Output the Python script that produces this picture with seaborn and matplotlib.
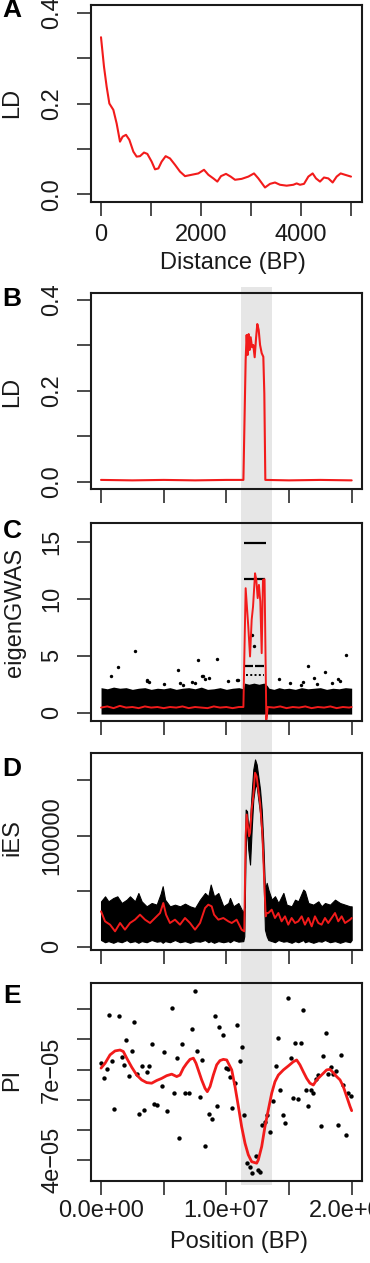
import numpy as np
import matplotlib
matplotlib.use('Agg')
import matplotlib.pyplot as plt
import seaborn as sns
from matplotlib.patches import Rectangle
from matplotlib.transforms import blended_transform_factory

# ---- data ----
# A: LD decay with distance
dist_bp = [0, 60, 113, 167, 247, 313, 380, 433, 500, 567, 647, 713, 780, 860, 927, 1013, 1080, 1147,
           1213, 1293, 1380, 1480, 1580, 1680, 1813, 1947, 2060, 2147, 2247, 2327, 2400, 2500, 2593,
           2680, 2813, 2947, 3060, 3147, 3280, 3380, 3480, 3580, 3713, 3847, 3913, 3980, 4060, 4147,
           4233, 4300, 4380, 4460, 4547, 4633, 4713, 4793, 4880, 5000]
ld_decay = [0.346, 0.281, 0.237, 0.200, 0.186, 0.156, 0.116, 0.127, 0.131, 0.120, 0.094, 0.083, 0.084,
            0.092, 0.089, 0.072, 0.055, 0.057, 0.072, 0.084, 0.079, 0.065, 0.050, 0.040, 0.043, 0.046,
            0.054, 0.043, 0.035, 0.028, 0.040, 0.045, 0.039, 0.032, 0.034, 0.039, 0.046, 0.035, 0.015,
            0.023, 0.026, 0.021, 0.019, 0.021, 0.024, 0.021, 0.023, 0.039, 0.046, 0.035, 0.028, 0.037,
            0.035, 0.026, 0.039, 0.046, 0.043, 0.039]

# selected region (Mb)
band_mb = [11.17, 13.62]

# B: LD along the chromosome (Mb)
b_pos = [0, 2.5, 5.0, 7.5, 10.0, 11.36, 11.54, 11.62, 11.70, 11.78, 11.86, 11.94, 12.05, 12.15, 12.26,
         12.37, 12.47, 12.58, 12.69, 12.82, 12.95, 13.03, 13.11, 15.0, 17.5, 20.0]
b_ld = [0.004, 0.003, 0.004, 0.003, 0.004, 0.004, 0.268, 0.323, 0.279, 0.325, 0.290, 0.318, 0.296, 0.301,
        0.274, 0.316, 0.347, 0.334, 0.301, 0.283, 0.275, 0.194, 0.004, 0.003, 0.004, 0.003]

# C: eigenGWAS - dense mass of points (upper edge), outliers, runs of tied values, smoothed line
c_mass_pos = [0, 0.5, 1.0, 1.5, 2.0, 2.5, 3.0, 3.5, 4.0, 4.5, 5.0, 5.5, 6.0, 6.5, 7.0, 7.5, 8.0, 8.5, 9.0,
              9.5, 10.0, 10.5, 11.0, 11.35, 11.45, 11.8, 12.2, 12.6, 13.0, 13.25, 13.4, 13.8, 14.2, 14.6,
              15.0, 15.5, 16.0, 16.5, 17.0, 17.5, 18.0, 18.5, 19.0, 19.5, 20.0]
c_mass_top = [2.2, 2.1, 2.25, 2.15, 2.2, 2.05, 2.15, 2.2, 2.05, 2.15, 2.1, 2.2, 2.05, 2.15, 2.2, 2.1, 2.25,
              2.05, 2.1, 2.2, 2.05, 2.15, 2.2, 2.1, 2.6, 2.5, 2.6, 2.5, 2.6, 2.4, 2.15, 2.05, 2.2, 2.1,
              2.15, 2.05, 2.2, 2.1, 2.15, 2.2, 2.05, 2.15, 2.1, 2.2, 2.15]
c_out_pos = [0.80, 1.33, 2.74, 3.64, 3.70, 3.86, 5.05, 6.17, 6.30, 6.52, 7.23, 7.50, 7.71, 8.03, 8.16, 8.30,
             8.62, 9.28, 10.16, 10.85, 10.95, 12.02, 12.23, 14.23, 15.08, 15.96, 16.14, 16.54, 16.97,
             17.21, 17.87, 18.45, 18.88, 19.07, 19.55]
c_out_val = [3.19, 4.04, 5.38, 2.75, 2.84, 2.66, 2.48, 3.71, 2.60, 2.43, 2.66, 2.63, 4.60, 3.19, 3.19, 2.95,
             3.07, 4.71, 2.77, 2.90, 2.90, 6.84, 5.88, 2.95, 2.63, 2.40, 2.69, 4.06, 3.04,
             2.54, 3.54, 2.63, 2.95, 2.75, 5.09]
c_run_start = [11.41, 11.41, 11.50, 12.30]
c_run_end = [13.16, 13.08, 12.10, 13.00]
c_run_val = [14.89, 11.73, 4.06, 4.06]
c_dot_run = [11.55, 13.00, 3.33]
c_fit_pos = [0, 0.5, 1.0, 1.5, 2.0, 2.5, 3.0, 3.5, 4.0, 4.5, 5.0, 5.5, 6.0, 6.5, 7.0, 7.5, 8.0, 8.5, 9.0,
             9.5, 10.0, 10.5, 11.0,
             11.36, 11.54, 11.75, 11.89, 12.02, 12.13, 12.29, 12.39, 12.50, 12.60, 12.71, 12.82, 12.92,
             13.05, 13.19, 13.30,
             13.8, 14.3, 14.8, 15.3, 15.8, 16.3, 16.8, 17.3, 17.8, 18.3, 18.8, 19.3, 19.8, 20.0]
c_fit_val = [0.45, 0.55, 0.4, 0.6, 0.45, 0.5, 0.4, 0.55, 0.45, 0.5, 0.4, 0.5, 0.45, 0.55, 0.4, 0.5, 0.45,
             0.4, 0.55, 0.45, 0.5, 0.4, 0.5,
             0.5, 10.94, 7.57, 4.94, 8.16, 9.33, 12.25, 11.67, 10.07, 11.23, 9.77, 5.23, 11.67,
             11.73, -0.61, 0.5,
             0.45, 0.55, 0.4, 0.5, 0.45, 0.55, 0.4, 0.5, 0.45, 0.55, 0.4, 0.5, 0.45, 0.5]

# D: iES - envelope of the point cloud and running mean
d_pos = [0, 0.32, 0.59, 0.98, 1.30, 1.65, 2.05, 2.31, 2.71, 2.98, 3.24, 3.64, 4.04, 4.44, 4.76, 4.92,
         5.11, 5.50, 5.90, 6.30, 6.70, 7.10, 7.50, 7.90, 8.30, 8.56, 8.75, 9.02, 9.36, 9.76, 10.16,
         10.29, 10.56, 10.96, 11.35, 11.43, 11.54, 11.65, 11.75, 11.89, 12.02, 12.15, 12.29, 12.42,
         12.55, 12.69, 12.82, 12.95, 13.08, 13.22, 13.35, 13.62, 13.88, 14.15, 14.55, 14.81, 15.21,
         15.48, 15.74, 16.14, 16.27, 16.54, 16.94, 17.34, 17.60, 17.87, 18.27, 18.67, 19.07, 19.47,
         19.87, 20.0]
d_hi = [40.8, 45.3, 40.8, 43.8, 45.3, 39.3, 42.3, 45.3, 40.8, 48.3, 40.8, 36.3, 39.3, 37.8, 47.7, 54.4,
        42.3, 36.3, 37.8, 36.3, 38.7, 36.3, 34.8, 42.3, 48.3, 45.3, 55.9, 45.3, 48.3, 36.3, 39.3,
        43.9, 36.3, 39.3, 30.3, 36.3, 123.4, 121.9, 105.4, 114.4, 138.4, 159.5, 168.5, 164.0,
        153.2, 141.4, 123.4, 93.4, 51.4, 57.4, 51.4, 42.3, 45.4, 39.3, 48.4, 37.8, 36.3,
        42.3, 40.8, 51.4, 49.9, 39.3, 37.8, 40.8, 36.3, 39.3, 37.8, 42.3, 39.3, 37.8,
        36.3, 36.3]
d_lo = [6, 4, 5, 3.5, 5, 4, 6, 4, 5, 3.5, 5, 4, 6, 4.5, 5, 3.5,
        5, 4, 6, 4, 5, 3.5, 5, 4.5, 6, 4, 5, 3.5, 5, 4, 5,
        4, 6, 4.5, 5, 9.3, 90.4, 108.4, 87.4, 73.9, 105.4, 132.4, 144.4, 144.4,
        132.4, 120.4, 99.4, 69.4, 15.3, 9.3, 6, 5, 4, 6, 4.5, 5, 3.5,
        5, 4, 6, 4, 5, 3.5, 5, 4.5, 6, 4, 5, 3.5, 5,
        4, 6]
d_fit_pos = [0, 0.32, 0.72, 1.12, 1.52, 1.91, 2.31, 2.71, 3.11, 3.51, 3.91, 4.31, 4.71, 4.97, 5.19, 5.50,
             5.90, 6.30, 6.70, 7.10, 7.50, 7.90, 8.30, 8.56, 8.83, 9.02, 9.36, 9.76, 10.16, 10.43,
             10.82, 11.22, 11.43, 11.54, 11.62, 11.75, 11.81, 11.89, 12.02, 12.15, 12.29, 12.42, 12.55,
             12.69, 12.87, 13.03, 13.14, 13.22, 13.35, 13.62, 13.88, 14.15, 14.41, 14.68, 14.94, 15.21,
             15.48, 15.74, 16.01, 16.27, 16.54, 16.81, 17.07, 17.34, 17.60, 17.87, 18.13, 18.40, 18.67,
             18.93, 19.20, 19.47, 19.87, 20.0]
d_fit_val = [31.8, 22.8, 19.8, 13.8, 21.3, 15.3, 21.3, 24.3, 28.8, 24.3, 21.3, 25.8, 30.3, 39.3, 28.8, 21.3,
             24.3, 19.8, 25.8, 21.3, 15.3, 21.3, 34.8, 37.8, 36.3, 28.8, 24.3, 25.8, 22.8, 21.3,
             24.3, 15.3, 13.8, 99.4, 118.9, 105.4, 99.4, 102.4, 123.4, 135.4, 156.5, 153.2, 141.4,
             129.4, 102.4, 57.4, 27.3, 30.3, 30.3, 33.3, 25.8, 30.3, 22.8, 27.3, 19.8, 25.8,
             21.3, 22.8, 27.3, 19.8, 25.8, 18.3, 27.3, 21.3, 19.8, 25.8, 21.3, 25.8, 30.3,
             22.8, 27.3, 21.3, 24.3, 25.8]

# E: nucleotide diversity (x 1e-5) per window and loess fit
e_pos = [0.0, 0.24, 0.45, 0.64, 0.85, 1.04, 1.44, 1.65, 1.83, 1.99, 2.26, 2.45, 2.61, 2.85, 3.03, 3.24,
         3.46, 3.64, 3.86, 4.04, 4.25, 4.44, 4.87, 5.05, 5.24, 5.64, 5.85, 6.04, 6.22, 6.46, 6.68, 7.05,
         7.29, 7.47, 7.66, 7.90, 8.06, 8.30, 8.64, 8.86, 9.07, 9.25, 9.44, 9.71,
         9.97, 10.11, 10.29, 10.48, 10.69, 10.88, 11.09, 11.28, 11.44, 11.67, 11.89, 12.07, 12.34,
         12.50, 12.69, 12.87, 13.08, 13.27, 13.48, 13.72, 13.94, 14.09, 14.31, 14.52, 14.71, 14.92,
         15.13, 15.32, 15.50, 15.72, 15.93, 16.12, 16.33, 16.51, 16.73, 16.91, 17.13, 17.34, 17.53,
         17.71, 17.92, 18.11, 18.32, 18.51, 18.72, 18.93, 19.15, 19.33, 19.55, 19.73, 19.95]
e_pi = [7.23, 6.71, 7.01, 8.82, 7.29, 5.69, 8.79, 7.41, 7.16, 7.98, 6.78, 7.62, 8.59, 6.85, 5.52, 7.12,
        5.67, 6.92, 7.13, 7.85, 5.85, 5.84, 6.46, 7.58, 5.62, 9.04, 6.22, 7.37, 4.73, 7.85, 6.24, 6.22,
        8.33, 9.61, 7.63, 6.09, 7.32, 4.48, 5.52, 5.36, 8.78, 5.81, 8.41, 8.15,
        7.05, 7.01, 6.74, 5.74, 6.57, 8.49, 7.29, 7.76, 5.49, 3.90, 3.76, 3.59, 4.15,
        3.66, 3.61, 5.17, 5.28, 5.50, 4.95, 5.97, 7.12, 8.04, 6.31, 5.50, 5.24, 9.36,
        7.37, 6.07, 7.87, 6.04, 7.87, 8.97, 6.33, 5.79, 6.31, 6.22, 6.68, 6.82, 5.12,
        7.45, 8.23, 6.87, 7.10, 6.86, 6.97, 5.17, 7.50, 6.50, 4.83, 6.24, 6.13]
e_fit_pos = [0.0, 0.32, 0.72, 1.12, 1.52, 1.78, 2.05, 2.45, 2.85, 3.24, 3.64, 4.04, 4.44, 4.84, 5.24,
             5.64, 6.04, 6.30, 6.57, 6.84, 7.10, 7.37, 7.58, 7.76, 8.03, 8.30, 8.48, 8.70, 8.96, 9.23,
             9.49, 9.76, 10.03, 10.43, 10.69, 10.96, 11.22, 11.49, 11.75, 12.02, 12.42, 12.55, 12.82,
             13.08, 13.35, 13.62, 13.88, 14.15, 14.55, 14.94, 15.34, 15.61, 15.87, 16.14, 16.41, 16.67,
             16.94, 17.21, 17.47, 17.74, 18.00, 18.27, 18.53, 18.80, 19.07, 19.33, 19.60, 19.87, 20.0]
e_fit_val = [7.05, 7.21, 7.49, 7.62, 7.65, 7.60, 7.38, 7.08, 6.82, 6.66, 6.57, 6.55, 6.64, 6.71, 6.80,
             6.85, 6.77, 6.82, 7.05, 7.21, 7.34, 7.38, 7.21, 6.99, 6.66, 6.38, 6.27, 6.44, 6.82, 7.16,
             7.30, 7.34, 7.32, 6.99, 6.44, 5.78, 5.11, 4.56, 4.18, 3.95, 3.90, 4.01, 4.45,
             5.11, 5.67, 6.22, 6.60, 6.82, 6.99, 7.12, 7.26, 7.32, 7.16, 6.93, 6.71, 6.55,
             6.49, 6.66, 6.77, 6.88, 6.99, 7.01, 6.90, 6.77, 6.66, 6.44, 6.11, 5.78, 5.64]

MB = 1e6
RED = '#f21b1b'
INK = '#1a1a1a'

sns.set_theme(style='white')
plt.rcParams['font.family'] = ['Liberation Sans', 'DejaVu Sans']

W, H = 370, 1263
fig = plt.figure(figsize=(W / 100, H / 100), dpi=100)
fig.patch.set_facecolor('white')


def make_ax(top, bottom):
    ax = fig.add_axes([91 / W, 1 - bottom / H, (361.7 - 91) / W, (bottom - top) / H])
    ax.set_facecolor('none')
    for s in ax.spines.values():
        s.set_visible(True)
        s.set_linewidth(1.5)
        s.set_color(INK)
    ax.tick_params(direction='out', length=10, width=1.1, color=INK, labelsize=17,
                   labelcolor=INK, left=True, bottom=True)
    ax.tick_params(axis='y', pad=10)
    return ax


def yticks(ax, vals, labels):
    ax.set_yticks(vals)
    ax.set_yticklabels(labels, rotation=90, va='center')


def pos_xticks(ax, labelled=False):
    ax.set_xlim(-0.8 * MB, 20.8 * MB)
    ax.set_xticks(np.arange(0, 21, 5) * MB)
    if labelled:
        ax.set_xticklabels(['0.0e+00', '', '1.0e+07', '', '2.0e+07'])
    else:
        ax.set_xticklabels([])


def ftext(x, y, s, **kw):
    fig.text(x / W, 1 - y / H, s, **kw)


# ---- A ----
axA = make_ax(5, 201.7)
sns.lineplot(x=dist_bp, y=ld_decay, ax=axA, color=RED, lw=1.5, estimator=None, sort=False)
axA.set_xlim(-200, 5214)
axA.set_ylim(-0.0163, 0.417)
axA.set_xticks(np.arange(0, 5001, 1000))
axA.set_xticklabels(['0', '', '2000', '', '4000', ''])
axA.tick_params(axis='x', pad=6)
yticks(axA, [0, 0.1, 0.2, 0.3, 0.4], ['0.0', '', '0.2', '', '0.4'])

# ---- B ----
axB = make_ax(293, 489)
sns.lineplot(x=np.array(b_pos) * MB, y=b_ld, ax=axB, color=RED, lw=1.5, estimator=None, sort=False)
pos_xticks(axB)
axB.set_ylim(-0.016, 0.4154)
yticks(axB, [0, 0.1, 0.2, 0.3, 0.4], ['0.0', '', '0.2', '', '0.4'])

# ---- C ----
axC = make_ax(523, 721)
axC.fill_between(np.array(c_mass_pos) * MB, -0.12, c_mass_top, color='black', lw=0)
sns.scatterplot(x=np.array(c_out_pos) * MB, y=c_out_val, ax=axC, color='black', s=6, linewidth=0)
axC.hlines(c_run_val, np.array(c_run_start) * MB, np.array(c_run_end) * MB, color='black', lw=1.6)
axC.hlines(c_dot_run[2], c_dot_run[0] * MB, c_dot_run[1] * MB, color='black', lw=1.4, linestyles=(0, (1, 1.2)))
sns.lineplot(x=np.array(c_fit_pos) * MB, y=c_fit_val, ax=axC, color=RED, lw=1.4, estimator=None, sort=False)
pos_xticks(axC)
axC.set_ylim(-0.73, 16.67)
yticks(axC, [0, 5, 10, 15], ['0', '5', '10', '15'])

# ---- D ----
axD = make_ax(753, 950)
axD.fill_between(np.array(d_pos) * MB, np.array(d_lo) * 1000, np.array(d_hi) * 1000, color='black', lw=0.8)
sns.lineplot(x=np.array(d_fit_pos) * MB, y=np.array(d_fit_val) * 1000, ax=axD, color=RED, lw=1.4,
             estimator=None, sort=False)
pos_xticks(axD)
axD.set_ylim(-3000, 174300)
yticks(axD, [0, 50000, 100000, 150000], ['0', '', '100000', ''])

# ---- E ----
axE = make_ax(983, 1181)
sns.scatterplot(x=np.array(e_pos) * MB, y=np.array(e_pi) * 1e-5, ax=axE, color='black', s=10, linewidth=0)
sns.lineplot(x=np.array(e_fit_pos) * MB, y=np.array(e_fit_val) * 1e-5, ax=axE, color=RED, lw=2.0,
             estimator=None, sort=False)
pos_xticks(axE, labelled=True)
axE.tick_params(axis='x', pad=3.5)
axE.set_ylim(3.31e-5, 9.87e-5)
yticks(axE, np.arange(4, 10) * 1e-5, ['4e\u221205', '', '', '7e\u221205', '', ''])

for ax in (axA, axB, axC, axD, axE):
    ax.set_xlabel('')
    ax.set_ylabel('')

# grey band marking the selected region across panels B-E
trans = blended_transform_factory(axB.transData, fig.transFigure)
fig.add_artist(Rectangle((band_mb[0] * MB, 1 - 1185 / H), (band_mb[1] - band_mb[0]) * MB, (1185 - 287) / H,
                         transform=trans, facecolor='#e6e6e6', edgecolor='none', zorder=-1))

# axis titles and panel letters
ftext(233, 269.3, 'Distance (BP)', ha='center', va='baseline', fontsize=17, color=INK)
ftext(239, 1248, 'Position (BP)', ha='center', va='baseline', fontsize=17, color=INK)
for (x, y, s) in [(12.5, 103, 'LD'), (12.5, 392, 'LD'), (15.5, 612, 'eigenGWAS'), (12.5, 838, 'iES'),
                  (12.5, 1080, 'PI')]:
    ftext(x, y, s, ha='center', va='center', rotation=90, fontsize=17, color=INK)
for (x, y, s) in [(12, 10, 'A'), (12, 298.5, 'B'), (12, 531.5, 'C'), (12, 769, 'D'), (12, 996, 'E')]:
    ftext(x, y, s, ha='center', va='center', fontsize=19, fontweight='bold', color='black')

fig.savefig('out.png', dpi=100)
